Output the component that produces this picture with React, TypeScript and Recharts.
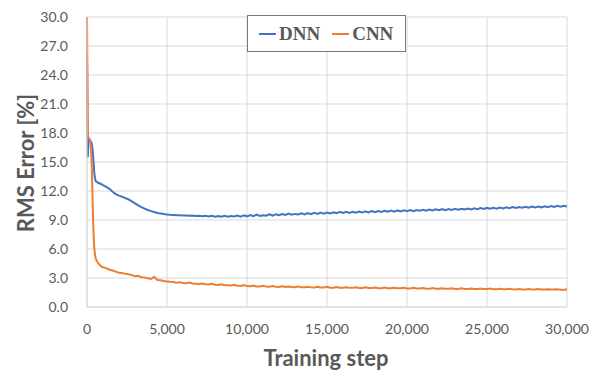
import React from 'react';
import { LineChart, Line, XAxis, YAxis, CartesianGrid, Legend, Label } from 'recharts';

const steps = [
  0, 25, 50, 75, 100, 150, 200, 250, 300, 350, 400, 450, 500, 550, 600, 700, 800, 900,
  1000, 1200, 1400, 1600, 1800, 2000, 2200, 2400, 2600, 2800,
  3000, 3200, 3400, 3600, 3800, 4000, 4200, 4400, 4600, 4800,
  5000, 5200, 5400, 5600, 5800, 6000, 6200, 6400, 6600, 6800,
  7000, 7200, 7400, 7600, 7800, 8000, 8200, 8400, 8600, 8800,
  9000, 9200, 9400, 9600, 9800, 10000, 10200, 10400, 10600, 10800,
  11000, 11200, 11400, 11600, 11800, 12000, 12200, 12400, 12600, 12800,
  13000, 13200, 13400, 13600, 13800, 14000, 14200, 14400, 14600, 14800,
  15000, 15200, 15400, 15600, 15800, 16000, 16200, 16400, 16600, 16800,
  17000, 17200, 17400, 17600, 17800, 18000, 18200, 18400, 18600, 18800,
  19000, 19200, 19400, 19600, 19800, 20000, 20200, 20400, 20600, 20800,
  21000, 21200, 21400, 21600, 21800, 22000, 22200, 22400, 22600, 22800,
  23000, 23200, 23400, 23600, 23800, 24000, 24200, 24400, 24600, 24800,
  25000, 25200, 25400, 25600, 25800, 26000, 26200, 26400, 26600, 26800,
  27000, 27200, 27400, 27600, 27800, 28000, 28200, 28400, 28600, 28800,
  29000, 29200, 29400, 29600, 29800, 30000,
];

const dnnError = [
  26.5, 19.5, 15.5, 16.4, 17.1, 17.3, 17.2, 17.1, 16.9, 16.3, 15.2, 14.0, 13.3, 13.0, 12.95, 12.85, 12.78, 12.7,
  12.60, 12.42, 12.22, 11.92, 11.68, 11.52, 11.40, 11.27, 11.12, 10.92,
  10.72, 10.52, 10.33, 10.17, 10.03, 9.92, 9.82, 9.73, 9.67, 9.61,
  9.57, 9.54, 9.52, 9.50, 9.49, 9.47, 9.46, 9.44, 9.47, 9.41,
  9.45, 9.38, 9.44, 9.36, 9.43, 9.35, 9.42, 9.34, 9.44, 9.33,
  9.42, 9.36, 9.45, 9.34, 9.48, 9.38, 9.52, 9.40, 9.55, 9.42,
  9.50, 9.44, 9.58, 9.46, 9.60, 9.49, 9.62, 9.52, 9.66, 9.54,
  9.63, 9.57, 9.70, 9.58, 9.72, 9.60, 9.74, 9.63, 9.77, 9.66,
  9.78, 9.68, 9.80, 9.70, 9.84, 9.72, 9.85, 9.74, 9.86, 9.76,
  9.88, 9.77, 9.90, 9.79, 9.92, 9.81, 9.93, 9.83, 9.95, 9.85,
  9.97, 9.86, 9.99, 9.88, 10.00, 9.90, 10.02, 9.92, 10.04, 9.95,
  10.06, 9.97, 10.08, 9.99, 10.10, 10.01, 10.12, 10.02, 10.13, 10.04,
  10.15, 10.06, 10.17, 10.08, 10.19, 10.10, 10.21, 10.12, 10.23, 10.14,
  10.25, 10.16, 10.27, 10.18, 10.29, 10.20, 10.31, 10.22, 10.33, 10.24,
  10.35, 10.26, 10.37, 10.28, 10.39, 10.30, 10.40, 10.31, 10.42, 10.33,
  10.44, 10.35, 10.46, 10.37, 10.48, 10.40,
];

const cnnError = [
  30.0, 24.5, 18.0, 17.6, 17.5, 17.4, 17.2, 16.5, 14.5, 11.0, 8.0, 6.2, 5.4, 5.0, 4.8, 4.55, 4.35, 4.2,
  4.10, 4.02, 3.86, 3.78, 3.66, 3.55, 3.52, 3.43, 3.38, 3.30,
  3.18, 3.22, 3.08, 3.05, 2.98, 2.90, 3.12, 2.80, 2.76, 2.68,
  2.64, 2.60, 2.58, 2.52, 2.55, 2.49, 2.46, 2.52, 2.43, 2.41,
  2.38, 2.44, 2.35, 2.33, 2.40, 2.30, 2.28, 2.34, 2.25, 2.24,
  2.22, 2.30, 2.20, 2.18, 2.26, 2.16, 2.15, 2.22, 2.13, 2.12,
  2.19, 2.11, 2.10, 2.17, 2.09, 2.08, 2.15, 2.07, 2.12, 2.06,
  2.05, 2.13, 2.04, 2.04, 2.10, 2.03, 2.02, 2.09, 2.02, 2.01,
  2.08, 2.00, 2.00, 2.06, 1.99, 1.99, 2.05, 1.98, 1.98, 2.04,
  1.97, 1.97, 2.03, 1.96, 1.96, 2.02, 1.95, 1.95, 2.01, 1.94,
  1.94, 2.00, 1.93, 1.93, 1.99, 1.92, 1.92, 1.98, 1.91, 1.91,
  1.97, 1.90, 1.90, 1.96, 1.89, 1.89, 1.95, 1.88, 1.88, 1.94,
  1.87, 1.87, 1.93, 1.86, 1.86, 1.92, 1.86, 1.85, 1.91, 1.85,
  1.85, 1.90, 1.84, 1.84, 1.89, 1.83, 1.83, 1.88, 1.83, 1.82,
  1.87, 1.82, 1.82, 1.86, 1.81, 1.81, 1.85, 1.81, 1.80, 1.84,
  1.80, 1.80, 1.84, 1.79, 1.79, 1.80,
];

const xTicks = [0, 5000, 10000, 15000, 20000, 25000, 30000];
const yTicks = [0, 3, 6, 9, 12, 15, 18, 21, 24, 27, 30];
const seriesKeys = ['dnn', 'cnn'];
const seriesNames = ['DNN', 'CNN'];
const seriesColors = ['#4472C4', '#ED7D31'];
const xTitle = 'Training step';
const yTitle = 'RMS Error [%]';

const data = steps.map((s, i) => ({ step: s, dnn: dnnError[i], cnn: cnnError[i] }));

const textColor = '#595959';
const gridColor = '#d9d9d9';
const fontSans = 'Lato, "Open Sans", sans-serif';

const renderLegend = () => (
  <div
    style={{
      boxSizing: 'border-box',
      width: 159,
      height: 37,
      border: '1.5px solid #7a7a7a',
      background: '#fff',
      display: 'flex',
      alignItems: 'center',
      paddingLeft: 11,
      fontFamily: '"Liberation Serif", "Times New Roman", serif',
      fontWeight: 'bold',
      fontSize: 19,
      color: textColor,
    }}
  >
    {seriesNames.map((n, i) => (
      <span key={n} style={{ display: 'flex', alignItems: 'center', marginRight: i === 0 ? 12 : 0 }}>
        <span
          style={{
            display: 'inline-block',
            width: 17,
            height: 0,
            borderTop: `2px solid ${seriesColors[i]}`,
            marginRight: 3,
          }}
        />
        {n}
      </span>
    ))}
  </div>
);

export default function App() {
  return (
    <div style={{ position: 'absolute', left: 0, top: 0, width: 597, height: 372, background: '#fff' }}>
      <LineChart width={597} height={372} data={data} margin={{ top: 17, right: 30, bottom: 0, left: 0 }}>
        <CartesianGrid stroke={gridColor} strokeWidth={1} verticalValues={xTicks} horizontalValues={yTicks} />
        <XAxis
          dataKey="step"
          type="number"
          domain={[0, 30000]}
          ticks={xTicks}
          height={65}
          axisLine={{ stroke: gridColor }}
          tickLine={false}
          tickSize={0}
          tickMargin={17}
          tick={{ fill: textColor, fontSize: 14, fontFamily: fontSans }}
          tickFormatter={(v: number) => v.toLocaleString('en-US')}
        >
          <Label
            content={(props: any) => {
              const vb = props.viewBox || { x: 87, y: 307, width: 480, height: 65 };
              return (
                <text
                  x={vb.x + vb.width / 2 - 1}
                  y={vb.y + 50}
                  textAnchor="middle"
                  dominantBaseline="central"
                  fill={textColor}
                  fontFamily={fontSans}
                  fontWeight="bold"
                  fontSize={22}
                >
                  {xTitle}
                </text>
              );
            }}
          />
        </XAxis>
        <YAxis
          type="number"
          domain={[0, 30]}
          ticks={yTicks}
          width={87}
          axisLine={{ stroke: gridColor }}
          tickLine={false}
          tickSize={0}
          tickMargin={19}
          tick={{ fill: textColor, fontSize: 14, fontFamily: fontSans }}
          tickFormatter={(v: number) => v.toFixed(1)}
        >
          <Label
            content={(props: any) => {
              const vb = props.viewBox || { x: 0, y: 17, width: 87, height: 290 };
              const cx = 25;
              const cy = vb.y + vb.height / 2 + 1;
              return (
                <text
                  x={cx}
                  y={cy}
                  transform={`rotate(-90 ${cx} ${cy})`}
                  textAnchor="middle"
                  dominantBaseline="central"
                  fill={textColor}
                  fontFamily={fontSans}
                  fontWeight="bold"
                  fontSize={22}
                >
                  {yTitle}
                </text>
              );
            }}
          />
        </YAxis>
        <Legend
          layout="horizontal"
          verticalAlign="middle"
          align="center"
          content={renderLegend}
          wrapperStyle={{ position: 'absolute', left: 247, top: 15, width: 159, height: 37 }}
        />
        {seriesKeys.map((k, i) => (
          <Line
            key={k}
            type="linear"
            dataKey={k}
            name={seriesNames[i]}
            stroke={seriesColors[i]}
            strokeWidth={2}
            dot={false}
            activeDot={false}
            isAnimationActive={false}
          />
        ))}
      </LineChart>
    </div>
  );
}
